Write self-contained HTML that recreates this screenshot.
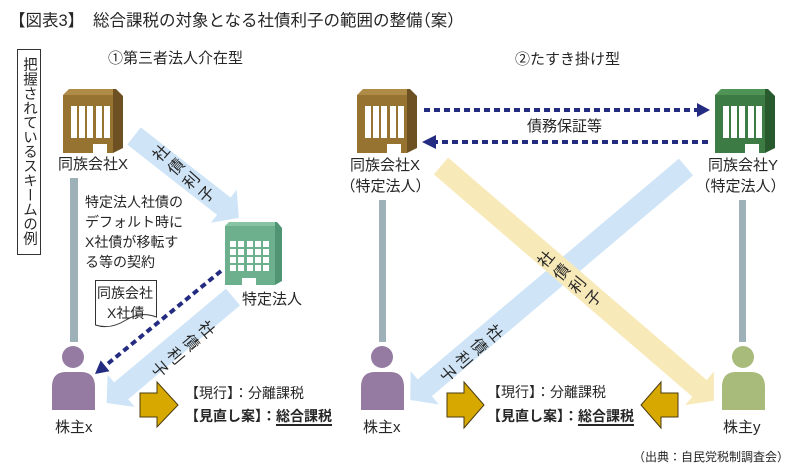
<!DOCTYPE html>
<html><head><meta charset="utf-8">
<style>
body{margin:0;}
#w{position:relative;width:800px;height:472px;background:#fff;overflow:hidden;font-family:"Liberation Sans","Noto Sans CJK JP",sans-serif;color:#262626;}
.t{position:absolute;white-space:nowrap;}
.h{font-feature-settings:"halt";}
.v{position:absolute;writing-mode:vertical-rl;white-space:nowrap;font-size:16px;line-height:16px;letter-spacing:4.5px;padding-top:4.5px;transform-origin:50% 50%;}
</style></head><body>
<div id="w">
<svg width="800" height="472" style="position:absolute;left:0;top:0">
  <!-- gray bars -->
  <rect x="70" y="178" width="8" height="164" fill="#9eb0b8"/>
  <rect x="379" y="200" width="7" height="142" fill="#9eb0b8"/>
  <rect x="739" y="200" width="7" height="142" fill="#9eb0b8"/>

  <!-- light blue arrows left -->
  <g transform="translate(134,136) rotate(38)"><polygon points="0,-11 114,-11 114,-21 133,0 114,21 114,11 0,11" fill="#cfe5f7"/></g>
  <g transform="translate(233,297) rotate(140)"><polygon points="0,-11 146,-11 146,-21 165,0 146,21 146,11 0,11" fill="#cfe5f7"/></g>
  <!-- right crossing arrows -->
  <g transform="translate(686,167) rotate(139.8)"><polygon points="0,-11 342,-11 342,-22 361,0 342,22 342,11 0,11" fill="#cfe5f7"/></g>
  <g transform="translate(441,166) rotate(40.7)"><polygon points="0,-11 341,-11 341,-22 360,0 341,22 341,11 0,11" fill="#f8e9b8"/></g>

  <!-- brown building left X -->
  <g transform="translate(63,88)">
    <polygon points="0,7 6,1 50,1 50,7" fill="#ae8b47"/>
    <polygon points="50,1 53,1 60,8 60,60 50,65" fill="#6e5122"/>
    <path d="M0,7 H50 V65 H44 V56 H30 V65 H0 Z" fill="#977332"/>
    <rect x="8" y="18" width="6" height="32" fill="#fff"/>
    <rect x="16" y="18" width="6" height="32" fill="#fff"/>
    <rect x="24" y="18" width="6" height="32" fill="#fff"/>
    <rect x="33" y="18" width="6" height="32" fill="#fff"/>
    <rect x="41" y="18" width="6" height="32" fill="#fff"/>
  </g>
  <!-- brown building right X -->
  <g transform="translate(357,88)">
    <polygon points="0,7 6,1 50,1 50,7" fill="#ae8b47"/>
    <polygon points="50,1 53,1 60,8 60,60 50,65" fill="#6e5122"/>
    <path d="M0,7 H50 V65 H44 V56 H30 V65 H0 Z" fill="#977332"/>
    <rect x="8" y="18" width="6" height="32" fill="#fff"/>
    <rect x="16" y="18" width="6" height="32" fill="#fff"/>
    <rect x="24" y="18" width="6" height="32" fill="#fff"/>
    <rect x="33" y="18" width="6" height="32" fill="#fff"/>
    <rect x="41" y="18" width="6" height="32" fill="#fff"/>
  </g>
  <!-- green building Y -->
  <g transform="translate(715,88)">
    <polygon points="0,7 6,1 50,1 50,7" fill="#4f9456"/>
    <polygon points="50,1 53,1 60,8 60,60 50,65" fill="#285a2e"/>
    <path d="M0,7 H50 V65 H44 V56 H30 V65 H0 Z" fill="#3c7b43"/>
    <rect x="8" y="18" width="6" height="32" fill="#fff"/>
    <rect x="16" y="18" width="6" height="32" fill="#fff"/>
    <rect x="24" y="18" width="6" height="32" fill="#fff"/>
    <rect x="33" y="18" width="6" height="32" fill="#fff"/>
    <rect x="41" y="18" width="6" height="32" fill="#fff"/>
  </g>
  <!-- green tall building 特定法人 -->
  <g transform="translate(225,221)">
    <polygon points="0,5 4,1 50,1 50,5" fill="#86c4a3"/>
    <polygon points="50,1 52,1 57,7 57,60 50,64" fill="#4f9574"/>
    <path d="M0,5 H50 V64 H31 V57 H17 V64 H0 Z" fill="#6cb08e"/>
    <g fill="#fff">
      <rect x="5" y="20" width="6" height="6"/><rect x="13" y="20" width="6" height="6"/><rect x="22" y="20" width="6" height="6"/><rect x="30" y="20" width="6" height="6"/><rect x="38" y="20" width="6" height="6"/>
      <rect x="5" y="28" width="6" height="6"/><rect x="13" y="28" width="6" height="6"/><rect x="22" y="28" width="6" height="6"/><rect x="30" y="28" width="6" height="6"/><rect x="38" y="28" width="6" height="6"/>
      <rect x="5" y="36" width="6" height="6"/><rect x="13" y="36" width="6" height="6"/><rect x="22" y="36" width="6" height="6"/><rect x="30" y="36" width="6" height="6"/><rect x="38" y="36" width="6" height="6"/>
      <rect x="5" y="44" width="6" height="6"/><rect x="13" y="44" width="6" height="6"/><rect x="22" y="44" width="6" height="6"/><rect x="30" y="44" width="6" height="6"/><rect x="38" y="44" width="6" height="6"/>
    </g>
  </g>

  <!-- dotted navy arrows -->
  <line x1="221" y1="271" x2="105" y2="366" stroke="#232c80" stroke-width="4" stroke-dasharray="6 4"/>
  <polygon points="95,374 109.5,371.2 100.7,360.4" fill="#232c80"/>
  <line x1="424" y1="110" x2="697" y2="110" stroke="#232c80" stroke-width="4" stroke-dasharray="6 4"/>
  <polygon points="710,110 697,103 697,117" fill="#232c80"/>
  <line x1="708" y1="142" x2="436" y2="142" stroke="#232c80" stroke-width="4" stroke-dasharray="6 4"/>
  <polygon points="422,142 436,135 436,149" fill="#232c80"/>

  <!-- document icon -->
  <path d="M95.5,280.5 H156.5 V317 Q141,311 126,320 Q110,330 95.5,325 Z" fill="#fff" stroke="#333" stroke-width="1"/>

  <!-- persons -->
  <g transform="translate(73,357)" fill="#957ba2">
    <circle cx="0" cy="0" r="11"/>
    <path d="M-21,53 V30 Q-21,15 -7,15 H8 Q22,15 22,30 V53 Z"/>
  </g>
  <g transform="translate(382,357)" fill="#957ba2">
    <circle cx="0" cy="0" r="11"/>
    <path d="M-21,53 V30 Q-21,15 -7,15 H8 Q22,15 22,30 V53 Z"/>
  </g>
  <g transform="translate(743,357)" fill="#a8bb7a">
    <circle cx="0" cy="0" r="11"/>
    <path d="M-21,53 V30 Q-21,15 -7,15 H8 Q22,15 22,30 V53 Z"/>
  </g>

  <!-- gold arrows -->
  <path d="M140,393 H157 V382 L178,405 L157,427 V417 H140 Z" fill="#d7a800" stroke="#4a3b10" stroke-width="1"/>
  <path d="M447,393 H464 V382 L484,405 L464,428 V417 H447 Z" fill="#d7a800" stroke="#4a3b10" stroke-width="1"/>
  <path d="M678,393 H661 V382 L641,405 L661,428 V417 H678 Z" fill="#d7a800" stroke="#4a3b10" stroke-width="1"/>
</svg>

<!-- title -->
<div class="t" style="left:9px;top:13px;font-size:16.5px;line-height:16.5px;">【図表3】</div>
<div class="t" style="left:93px;top:13px;font-size:16.5px;line-height:16.5px;">総合課税の対象となる社債利子の範囲の整備<span class="h">（</span>案<span class="h">）</span></div>

<!-- vertical box -->
<div style="position:absolute;left:17px;top:49px;width:22px;height:204px;border:1px solid #333;"></div>
<div class="t" style="left:21px;top:57px;writing-mode:vertical-rl;font-size:14.5px;line-height:15px;">把握されているスキームの例</div>

<div class="t" style="left:108px;top:51px;font-size:15px;line-height:15px;">①第三者法人介在型</div>
<div class="t" style="left:515px;top:52px;font-size:15px;line-height:15px;">②たすき掛け型</div>

<!-- left scenario text -->
<div class="t" style="left:58px;top:157px;font-size:15px;line-height:15px;">同族会社X</div>
<div class="t" style="left:85px;top:192px;font-size:14px;line-height:20px;">特定法人社債の<br>デフォルト時に<br>X社債が移転す<br>る等の契約</div>
<div class="t" style="left:97px;top:286px;font-size:14px;line-height:14px;">同族会社</div>
<div class="t" style="left:107px;top:306px;font-size:14px;line-height:14px;">X社債</div>
<div class="t" style="left:242px;top:292px;font-size:15px;line-height:15px;">特定法人</div>
<div class="t" style="left:55px;top:420px;font-size:15px;line-height:15px;">株主x</div>
<div class="t" style="left:185px;top:386px;font-size:14px;line-height:14px;">【現行】：分離課税</div>
<div class="t" style="left:185px;top:409px;font-size:14px;line-height:14px;font-weight:bold;">【見直し案】：<span style="text-decoration:underline;text-decoration-thickness:1.5px;text-underline-offset:3px;">総合課税</span></div>

<!-- rotated labels -->
<div class="v" style="left:172.5px;top:131.75px;transform:rotate(-48deg);">社債利子</div>
<div class="v" style="left:173.5px;top:302.5px;transform:rotate(49.6deg);">社債利子</div>
<div class="v" style="left:559px;top:236.5px;transform:rotate(-51deg);">社債利子</div>
<div class="v" style="left:461.5px;top:307px;transform:rotate(49deg);">社債利子</div>

<!-- right scenario text -->
<div class="t" style="left:350px;top:158px;font-size:15px;line-height:15px;">同族会社X</div>
<div class="t" style="left:348px;top:179px;font-size:15px;line-height:15px;"><span class="h">（</span>特定法人<span class="h">）</span></div>
<div class="t" style="left:708px;top:158px;font-size:15px;line-height:15px;">同族会社Y</div>
<div class="t" style="left:703px;top:179px;font-size:15px;line-height:15px;"><span class="h">（</span>特定法人<span class="h">）</span></div>
<div class="t" style="left:527px;top:119px;font-size:15px;line-height:15px;">債務保証等</div>
<div class="t" style="left:363px;top:420px;font-size:15px;line-height:15px;">株主x</div>
<div class="t" style="left:723px;top:420px;font-size:15px;line-height:15px;">株主y</div>
<div class="t" style="left:487px;top:385px;font-size:14px;line-height:14px;">【現行】：分離課税</div>
<div class="t" style="left:487px;top:409px;font-size:14px;line-height:14px;font-weight:bold;">【見直し案】：<span style="text-decoration:underline;text-decoration-thickness:1.5px;text-underline-offset:3px;">総合課税</span></div>

<div class="t" style="left:633px;top:451px;font-size:12px;line-height:12px;">（出典：自民党税制調査会）</div>
</div>
</body></html>
